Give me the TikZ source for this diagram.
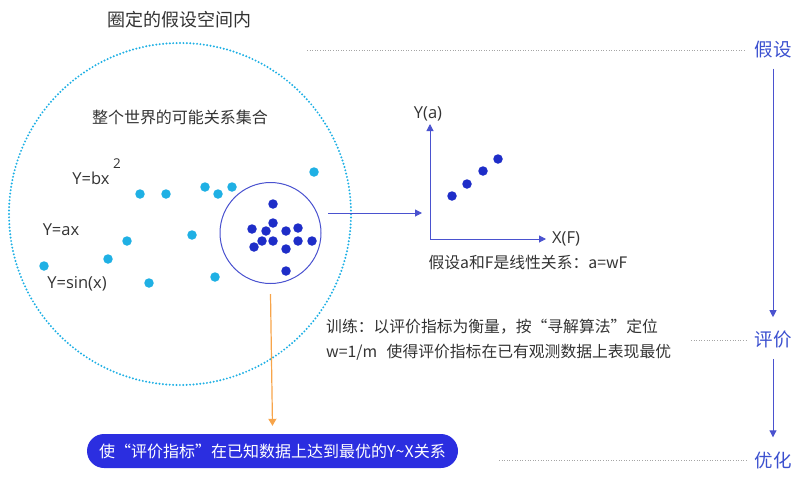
\documentclass[tikz,border=0pt]{standalone}
\usepackage{fontspec}
\setmainfont{Noto Sans CJK SC}
\newfontfamily\latinfont{Open Sans}
\usetikzlibrary{arrows.meta}
\definecolor{cyandot}{HTML}{1FB0E4}
\definecolor{darkdot}{HTML}{1E2DC8}
\definecolor{lineblue}{HTML}{4A52CF}
\definecolor{labelblue}{HTML}{3B50CF}
\definecolor{pillblue}{HTML}{2B2EE0}
\definecolor{txt}{HTML}{333333}
\definecolor{orangeline}{HTML}{F7A44A}
\begin{document}
\begin{tikzpicture}[x=1pt,y=-1pt,
  txtstyle/.style={text=txt,inner sep=0pt,font=\fontsize{15.8pt}{18pt}\selectfont},
  formula/.style={text=txt,inner sep=0pt,font=\latinfont\fontsize{16.5pt}{18pt}\selectfont},
  cdot/.style={circle,fill=cyandot,inner sep=0pt,minimum size=9.5pt},
  ddot/.style={circle,fill=darkdot,inner sep=0pt,minimum size=9.5pt},
  steplabel/.style={text=labelblue,inner sep=0pt,font=\fontsize{18.5pt}{20pt}\selectfont},
  guide/.style={draw=black!35,line width=0.8pt,dash pattern=on 1pt off 1.6pt},
  bluearrow/.style={draw=lineblue,line width=1pt,-{Triangle[length=7pt,width=7pt]}},
]
\useasboundingbox (0,0) rectangle (812,493);
% hypothesis space
\node[txtstyle,font=\fontsize{18pt}{20pt}\selectfont] (title) at (179,20) {圈定的假设空间内};
\node[circle,draw=cyandot,line width=2.2pt,dash pattern=on 0pt off 3.4pt,line cap=round,minimum size=342pt,inner sep=0pt] (world) at (180,214) {};
\node[txtstyle,font=\fontsize{16pt}{18pt}\selectfont] (worldlabel) at (180,117) {整个世界的可能关系集合};
\node[formula] (fbx) at (91,178) {Y=bx};
\node[formula,font=\latinfont\fontsize{13.5pt}{14pt}\selectfont] (fsq) at (117,164) {2};
\node[formula] (fax) at (61,230) {Y=ax};
\node[formula] (fsin) at (77,284) {Y=sin(x)};
% cyan dots
\foreach \i/\x/\y in {1/140/194,2/166/194,3/205/187,4/218/194,5/232/187,6/314/172,7/192/235,8/127/241,9/108/259,10/44/266,11/149/283,12/215/277}
  \node[cdot] (c\i) at (\x,\y) {};
% selected region
\node[circle,draw=lineblue,line width=1pt,minimum size=101pt,inner sep=0pt] (sel) at (270.5,233) {};
\foreach \i/\x/\y in {1/273/204,2/273/223,3/252/229,4/266/231,5/286/231,6/298/228,7/262/241,8/254/247,9/273/241,10/286/249,11/298/241,12/312/241,13/286/271}
  \node[ddot] (d\i) at (\x,\y) {};
% arrow to plot
\coordinate (selout) at (328,213);
\coordinate (plotin) at (422,213);
\draw[bluearrow] (selout) -- (plotin);
% axes
\coordinate (O) at (430,239);
\coordinate (ytop) at (430,124);
\coordinate (xend) at (546,239);
\draw[draw=lineblue,line width=1pt,{Triangle[length=7pt,width=7pt]}-{Triangle[length=7pt,width=7pt]}] (ytop) -- (O) -- (xend);
\node[formula] (ylab) at (428,114) {Y(a)};
\node[formula] (xlab) at (566,239) {X(F)};
\foreach \i/\x/\y in {1/452/196,2/467/184,3/483/171,4/498/159}
  \node[ddot] (p\i) at (\x,\y) {};
\node[txtstyle] (hyp) at (528,262) {假设a和F是线性关系：a=wF};
% training text
\node[txtstyle,anchor=west] (train1) at (326,327) {训练：以评价指标为衡量，按“寻解算法”定位};
\node[txtstyle,anchor=west] (train2) at (326,352) {w=1/m\hspace{0.6em}使得评价指标在已有观测数据上表现最优};
% result pill
\node[rounded corners=17pt,fill=pillblue,minimum width=371pt,minimum height=34pt,inner sep=0pt,text=white,font=\fontsize{16pt}{18pt}\selectfont] (pill) at (272.5,451) {使“评价指标”在已知数据上达到最优的Y\textasciitilde X关系};
\draw[draw=orangeline,line width=1.2pt,-{Triangle[length=7pt,width=8pt]}] ([yshift=-10pt]sel.south) -- ([yshift=8pt]pill.north);
% step labels
\node[steplabel] (s1) at (773,50) {假设};
\node[steplabel] (s2) at (773,340) {评价};
\node[steplabel] (s3) at (773,460) {优化};
\draw[bluearrow,shorten <=10pt,shorten >=14pt] (s1.south) -- (s2.north);
\draw[bluearrow,shorten <=10pt,shorten >=14pt] (s2.south) -- (s3.north);
\coordinate (g1) at (307,50);
\coordinate (g2) at (691,340);
\coordinate (g3) at (499,460);
\draw[guide,shorten >=8pt] (g1) -- (s1.west);
\draw[guide,shorten >=8pt] (g2) -- (s2.west);
\draw[guide,shorten >=8pt] (g3) -- (s3.west);
\end{tikzpicture}
\end{document}
